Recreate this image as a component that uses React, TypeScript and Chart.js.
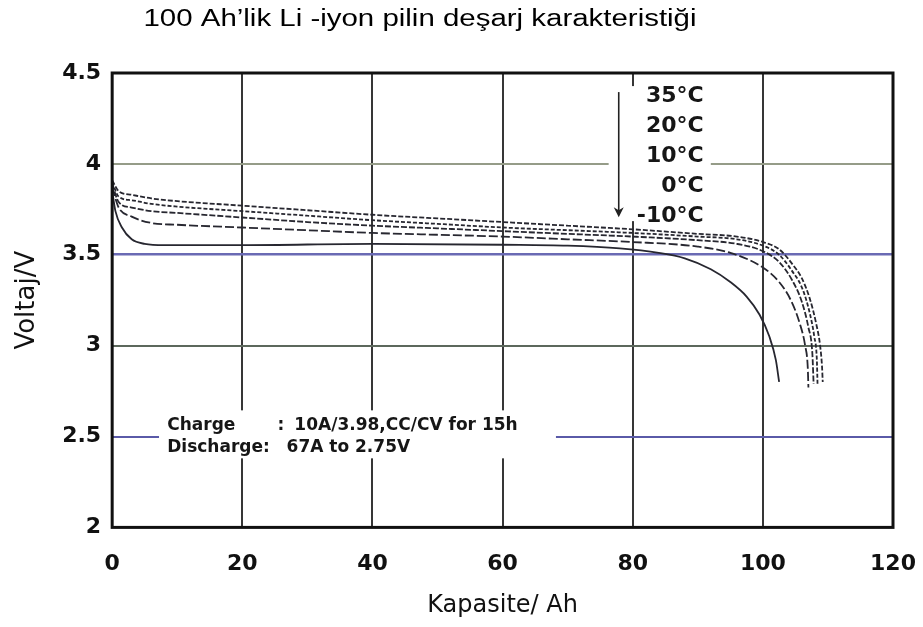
import React, { useEffect, useRef } from "react";
import { Chart, registerables } from "chart.js";

Chart.register(...registerables);

// Axis ranges and tick steps
const capacityMin = 0;
const capacityMax = 120;
const capacityStep = 20;
const voltageMin = 2;
const voltageMax = 4.5;
const voltageStep = 0.5;

// Discharge curves: capacity (Ah) and terminal voltage (V) per temperature
const ah35 = [0, 1, 3, 6, 10, 20, 30, 40, 50, 60, 70, 80, 90, 96, 100, 102.5, 104.5, 106, 107.2, 108.2, 108.8, 109.1, 109.2];
const v35 = [3.91, 3.85, 3.83, 3.81, 3.795, 3.77, 3.745, 3.72, 3.7, 3.68, 3.66, 3.64, 3.615, 3.6, 3.57, 3.53, 3.45, 3.37, 3.26, 3.12, 3.0, 2.88, 2.8];

const ah20 = [0, 1, 3, 6, 10, 20, 30, 40, 50, 60, 70, 80, 90, 96, 100, 102.5, 104.5, 106, 107.2, 107.9, 108.3, 108.4];
const v20 = [3.9, 3.82, 3.8, 3.78, 3.765, 3.74, 3.715, 3.69, 3.67, 3.65, 3.635, 3.62, 3.6, 3.585, 3.55, 3.5, 3.41, 3.32, 3.18, 3.05, 2.92, 2.79];

const ah10 = [0, 1, 3, 6, 10, 20, 30, 40, 50, 60, 70, 80, 90, 96, 100, 102.5, 104.5, 106, 107, 107.6, 107.8];
const v10 = [3.89, 3.79, 3.76, 3.74, 3.73, 3.705, 3.68, 3.66, 3.645, 3.63, 3.615, 3.6, 3.58, 3.56, 3.52, 3.46, 3.36, 3.24, 3.1, 2.96, 2.79];

const ah0 = [0, 1, 3, 6, 10, 20, 30, 40, 50, 60, 70, 80, 90, 95, 100, 102.5, 104.3, 105.6, 106.5, 106.9, 107];
const v0 = [3.87, 3.76, 3.71, 3.675, 3.665, 3.65, 3.635, 3.62, 3.61, 3.6, 3.585, 3.57, 3.545, 3.51, 3.43, 3.35, 3.25, 3.13, 3.0, 2.88, 2.77];

const ahMinus10 = [0, 0.5, 1.5, 3, 5, 8, 20, 40, 60, 70, 78, 84, 88, 92, 95, 97.5, 99.5, 101, 102, 102.5];
const vMinus10 = [3.85, 3.74, 3.65, 3.585, 3.56, 3.553, 3.553, 3.56, 3.555, 3.55, 3.535, 3.51, 3.48, 3.42, 3.35, 3.27, 3.17, 3.05, 2.92, 2.8];

// Temperature labels, top to bottom, and the voltage level each sits at
const temperatureLabels = ["35°C", "20°C", "10°C", "0°C", "-10°C"];
const temperatureLabelVolts = [4.37, 4.205, 4.04, 3.875, 3.71];
const temperatureLabelAh = 90.9;

// Arrow pointing from warm to cold curves
const arrowAh = 77.85;
const arrowFromV = 4.395;
const arrowToV = 3.707;

// Test conditions note
const chargeLabel = "Charge";
const chargeValue = "10A/3.98,CC/CV for 15h";
const dischargeLabel = "Discharge:";
const dischargeValue = "67A to 2.75V";

const titleText = "100 Ah\u2019lik Li -iyon pilin deşarj karakteristiği";
const xTitle = "Kapasite/ Ah";
const yTitle = "Voltaj/V";

const toPoints = (xs: number[], ys: number[]) => xs.map((x, i) => ({ x, y: ys[i] }));

const gridColorByVoltage: Record<string, string> = {
  "2.5": "#5a5aa8",
  "3": "#5c685c",
  "3.5": "#6a6ab4",
  "4": "#959c88",
};

const overlayPlugin = {
  id: "overlay",
  beforeDatasetsDraw(chart: any) {
    const { ctx, scales } = chart;
    const x = scales.x;
    const y = scales.y;
    ctx.save();
    ctx.fillStyle = "#ffffff";
    // clear the grid behind the temperature labels and the test-condition note
    const clearBox = (a0: number, a1: number, vTop: number, vBottom: number) => {
      const px0 = x.getPixelForValue(a0);
      const px1 = x.getPixelForValue(a1);
      const py0 = y.getPixelForValue(vTop);
      const py1 = y.getPixelForValue(vBottom);
      ctx.fillRect(px0, py0, px1 - px0, py1 - py0);
    };
    clearBox(76.3, 92, 4.428, 3.685);
    clearBox(7.2, 68.2, 2.644, 2.38);
    ctx.restore();
  },
  afterDatasetsDraw(chart: any) {
    const { ctx, chartArea, scales } = chart;
    const x = scales.x;
    const y = scales.y;
    ctx.save();

    // plot frame
    ctx.strokeStyle = "#111111";
    ctx.lineWidth = 3;
    ctx.strokeRect(chartArea.left, chartArea.top, chartArea.right - chartArea.left, chartArea.bottom - chartArea.top);

    // arrow
    const ax = x.getPixelForValue(arrowAh);
    const ay0 = y.getPixelForValue(arrowFromV);
    const ay1 = y.getPixelForValue(arrowToV);
    ctx.strokeStyle = "#222222";
    ctx.fillStyle = "#222222";
    ctx.lineWidth = 1.6;
    ctx.beginPath();
    ctx.moveTo(ax, ay0);
    ctx.lineTo(ax, ay1 - 6);
    ctx.stroke();
    ctx.beginPath();
    ctx.moveTo(ax - 5, ay1 - 10);
    ctx.lineTo(ax, ay1);
    ctx.lineTo(ax + 5, ay1 - 10);
    ctx.lineTo(ax, ay1 - 7);
    ctx.closePath();
    ctx.fill();

    // temperature labels
    ctx.fillStyle = "#161616";
    ctx.font = "bold 22px 'DejaVu Sans'";
    ctx.textAlign = "right";
    ctx.textBaseline = "middle";
    const lx = x.getPixelForValue(temperatureLabelAh);
    temperatureLabels.forEach((t, i) => {
      ctx.fillText(t, lx, y.getPixelForValue(temperatureLabelVolts[i]));
    });

    // test conditions
    ctx.font = "bold 17px 'DejaVu Sans'";
    ctx.textAlign = "left";
    const r1 = y.getPixelForValue(2.562);
    const r2 = y.getPixelForValue(2.441);
    ctx.fillText(chargeLabel, x.getPixelForValue(8.46), r1);
    ctx.fillText(":", x.getPixelForValue(25.4), r1);
    ctx.fillText(chargeValue, x.getPixelForValue(28), r1);
    ctx.fillText(dischargeLabel, x.getPixelForValue(8.46), r2);
    ctx.fillText(dischargeValue, x.getPixelForValue(26.8), r2);
    ctx.restore();
  },
  afterDraw(chart: any) {
    const { ctx } = chart;
    ctx.save();
    ctx.fillStyle = "#000000";
    ctx.font = "23px 'Liberation Sans'";
    ctx.textAlign = "center";
    ctx.textBaseline = "middle";
    ctx.translate(420, 20);
    ctx.scale(1.28, 1);
    ctx.fillText(titleText, 0, 0);
    ctx.restore();
  },
};

export default function App() {
  const canvasRef = useRef<HTMLCanvasElement | null>(null);

  useEffect(() => {
    const canvas = canvasRef.current;
    if (!canvas) return;
    const curveColor = "#272730";
    const chart = new Chart(canvas, {
      type: "scatter",
      data: {
        datasets: [
          { label: temperatureLabels[0], data: toPoints(ah35, v35), borderDash: [5, 2] },
          { label: temperatureLabels[1], data: toPoints(ah20, v20), borderDash: [4, 2] },
          { label: temperatureLabels[2], data: toPoints(ah10, v10), borderDash: [6, 2] },
          { label: temperatureLabels[3], data: toPoints(ah0, v0), borderDash: [9, 3] },
          { label: temperatureLabels[4], data: toPoints(ahMinus10, vMinus10) },
        ].map((d) => ({
          ...d,
          showLine: true,
          borderColor: curveColor,
          backgroundColor: curveColor,
          borderWidth: 1.8,
          pointRadius: 0,
          cubicInterpolationMode: "monotone" as const,
          fill: false,
        })),
      },
      options: {
        responsive: false,
        animation: false,
        layout: { padding: { top: 73, right: 30, bottom: 8, left: 9 } },
        plugins: {
          legend: { display: false },
          tooltip: { enabled: false },
          title: { display: false },
        },
        scales: {
          x: {
            type: "linear",
            min: capacityMin,
            max: capacityMax,
            // the last tick label fits inside the right padding
            afterFit: (scale: any) => {
              scale.paddingRight = 0;
            },
            ticks: {
              stepSize: capacityStep,
              color: "#111111",
              padding: 24,
              font: { family: "'DejaVu Sans'", size: 22, weight: "bold" },
            },
            grid: {
              drawTicks: false,
              color: (c: any) =>
                c.tick && (c.tick.value === capacityMin || c.tick.value === capacityMax) ? "rgba(0,0,0,0)" : "#363636",
              lineWidth: 2,
            },
            border: { display: false },
            title: {
              display: true,
              text: xTitle,
              color: "#111111",
              font: { family: "'DejaVu Sans'", size: 24, lineHeight: 0.3 },
              padding: { top: 0, bottom: 10 },
            },
          },
          y: {
            type: "linear",
            min: voltageMin,
            max: voltageMax,
            ticks: {
              stepSize: voltageStep,
              color: "#111111",
              padding: 11,
              font: { family: "'DejaVu Sans'", size: 22, weight: "bold" },
              callback: (value: any) => `${value}`,
            },
            grid: {
              drawTicks: false,
              color: (c: any) => (c.tick ? gridColorByVoltage[String(c.tick.value)] || "rgba(0,0,0,0)" : "rgba(0,0,0,0)"),
              lineWidth: (c: any) => (c.tick && c.tick.value === 3.5 ? 2.6 : 2),
            },
            border: { display: false },
            title: {
              display: true,
              text: yTitle,
              color: "#111111",
              font: { family: "'DejaVu Sans'", size: 26 },
              padding: { top: 3, bottom: 8 },
            },
          },
        },
      },
      plugins: [overlayPlugin],
    });
    return () => chart.destroy();
  }, []);

  return (
    <div style={{ position: "absolute", left: 0, top: 0, width: 923, height: 627, background: "#ffffff" }}>
      <canvas ref={canvasRef} width={923} height={627} />
    </div>
  );
}
